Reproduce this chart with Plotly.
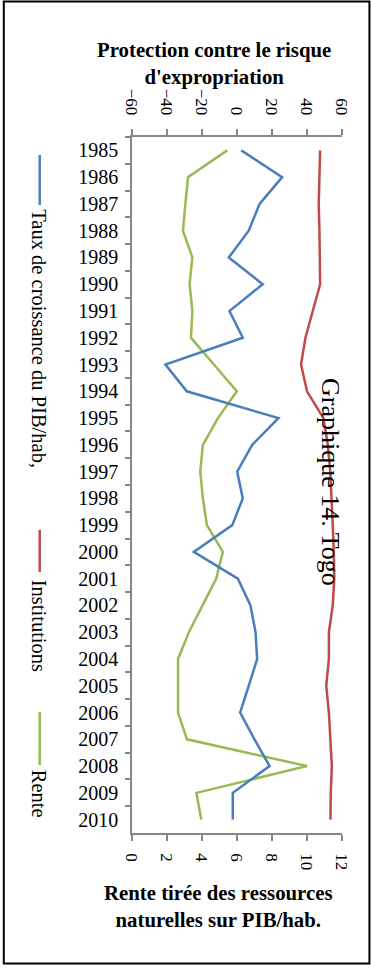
import plotly.graph_objects as go

# Years shown on the vertical category axis (top to bottom)
years = [str(y) for y in range(1985, 2011)]

# Series plotted against the top axis (-60 .. 60)
croissance = [2.4, 25.8, 12.9, 6.7, -4.7, 14.7, -4.3, 3.3, -40.9, -28.7,
              23.7, 8.7, 0.1, 3.3, -2.7, -24.7, 0.5, 7.7, 10.6, 11.5,
              6.7, 1.8, 10.0, 18.6, -2.4, -2.4]
institutions = [47.5, 47.3, 46.7, 47.1, 47.1, 47.5, 43.3, 39.1, 36.6, 40.0,
                49.4, 51.9, 53.3, 54.2, 54.7, 55.3, 55.6, 54.7, 52.5, 52.5,
                51.0, 52.5, 53.3, 54.2, 53.6, 53.4]

# Series plotted against the bottom axis (0 .. 12)
rente = [5.44, 3.20, 3.05, 2.91, 3.45, 3.29, 3.45, 3.37, 4.68, 5.99,
         4.91, 4.05, 3.90, 4.05, 4.28, 5.19, 4.81, 4.02, 3.25, 2.63,
         2.63, 2.63, 3.14, 10.0, 3.68, 3.96]

series_names = ["Taux de croissance du PIB/hab,", "Institutions", "Rente"]
series_colors = ["#4A7EBB", "#BE4B48", "#98B954"]

top_ticks = [-60, -40, -20, 0, 20, 40, 60]
bottom_ticks = [0, 2, 4, 6, 8, 10, 12]

top_title = "Protection contre le risque<br>d'expropriation"
bottom_title = "Rente tirée des ressources<br>naturelles sur PIB/hab."
chart_title = "Graphique 14. Togo"

W, H = 371, 969
L, R, T, B = 132, 28.5, 137, 136
PW = W - L - R
PH = H - T - B


def fx(px):
    return (px - L) / PW


def fy(py):
    return (H - B - py) / PH


FONT = "Times New Roman, Liberation Serif, serif"
AXIS_GREY = "#868686"

fig = go.Figure()
fig.add_trace(go.Scatter(x=croissance, y=years, mode="lines", xaxis="x2", yaxis="y",
                         line=dict(color=series_colors[0], width=2.5),
                         name=series_names[0]))
fig.add_trace(go.Scatter(x=institutions, y=years, mode="lines", xaxis="x2", yaxis="y",
                         line=dict(color=series_colors[1], width=2.5),
                         name=series_names[1]))
fig.add_trace(go.Scatter(x=rente, y=years, mode="lines", xaxis="x", yaxis="y",
                         line=dict(color=series_colors[2], width=2.5),
                         name=series_names[2]))

axis_common = dict(showgrid=False, zeroline=False, showline=True,
                   linecolor=AXIS_GREY, linewidth=1.5, ticks="outside",
                   tickcolor=AXIS_GREY, tickwidth=1.5, ticklen=6,
                   tickangle=90, tickfont=dict(family=FONT, size=17, color="black"))

fig.update_layout(
    width=W, height=H,
    margin=dict(l=L, r=R, t=T, b=B, pad=0),
    paper_bgcolor="white", plot_bgcolor="white",
    showlegend=False,
    font=dict(family=FONT, color="black"),
    xaxis=dict(range=[0, 12], tickvals=bottom_ticks, anchor="y", side="bottom",
               ticklabelstandoff=9, **axis_common),
    xaxis2=dict(range=[-60, 60], tickvals=top_ticks, anchor="y", side="top",
                overlaying="x", ticklabelstandoff=8, **axis_common),
    yaxis=dict(type="category", categoryorder="array", categoryarray=years,
               range=[len(years) - 0.5, -0.5], tickson="boundaries",
               showgrid=False, zeroline=False, showline=True,
               linecolor=AXIS_GREY, linewidth=1.5, ticks="outside",
               tickcolor=AXIS_GREY, tickwidth=1.5, ticklen=5,
               ticklabelstandoff=8,
               tickfont=dict(family=FONT, size=20, color="black")),
)

annotations = [
    dict(text="<b>" + top_title.replace("<br>", "</b><br><b>") + "</b>",
         x=fx(214.5), y=fy(63.5), xref="paper", yref="paper",
         xanchor="center", yanchor="middle", showarrow=False,
         font=dict(family=FONT, size=20.8, color="black")),
    dict(text="<b>" + bottom_title.replace("<br>", "</b><br><b>") + "</b>",
         x=fx(219), y=fy(905.5), xref="paper", yref="paper",
         xanchor="center", yanchor="middle", showarrow=False,
         font=dict(family=FONT, size=20.8, color="black")),
    dict(text=chart_title, textangle=90,
         x=fx(331), y=fy(481.5), xref="paper", yref="paper",
         xanchor="center", yanchor="middle", showarrow=False,
         font=dict(family=FONT, size=26, color="black")),
]

shapes = [
    # outer frame
    dict(type="rect", xref="paper", yref="paper",
         x0=fx(3.5), x1=fx(370), y0=fy(963.5), y1=fy(1.5),
         line=dict(color="black", width=2), fillcolor="rgba(0,0,0,0)", layer="above"),
]

# rotated legend built from line keys and vertical labels
legend_keys = [(155, 205, 207), (530, 572, 578), (712, 765, 768)]
for name, color, (y0, y1, ty) in zip(series_names, series_colors, legend_keys):
    shapes.append(dict(type="line", xref="paper", yref="paper",
                       x0=fx(39.5), x1=fx(39.5), y0=fy(y0), y1=fy(y1),
                       line=dict(color=color, width=2.5)))
    annotations.append(dict(text=name, textangle=90,
                            x=fx(39), y=fy(ty), xref="paper", yref="paper",
                            xanchor="center", yanchor="top", showarrow=False,
                            font=dict(family=FONT, size=20.5, color="black")))

fig.update_layout(annotations=annotations, shapes=shapes)

fig.write_html("out.html")
